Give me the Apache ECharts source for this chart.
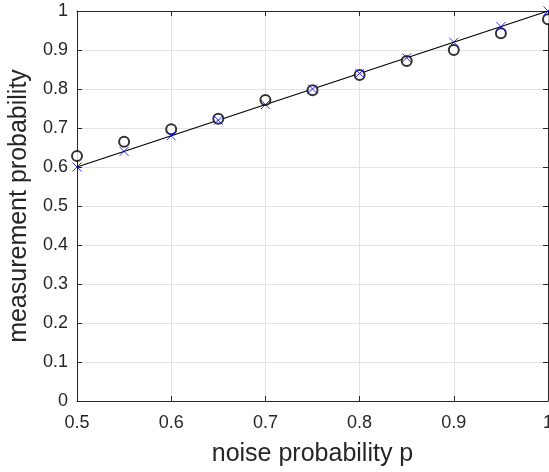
<!DOCTYPE html>
<html>
<head>
<meta charset="utf-8">
<script src="https://cdn.jsdelivr.net/npm/echarts@6/dist/echarts.min.js"></script>
<style>
  html, body { margin: 0; padding: 0; background: #fff; }
  #chart { width: 549px; height: 472px; }
</style>
</head>
<body>
<div id="chart"></div>
<script>
// noise probability p
const pValues = [0.5, 0.55, 0.6, 0.65, 0.7, 0.75, 0.8, 0.85, 0.9, 0.95, 1.0];
// measured (circles)
const measured = [0.628, 0.665, 0.697, 0.724, 0.772, 0.797, 0.836, 0.872, 0.900, 0.943, 0.979];
// expected (blue crosses)
const expected = [0.60, 0.64, 0.68, 0.72, 0.76, 0.80, 0.84, 0.88, 0.92, 0.96, 1.00];
// reference line end points
const lineX = [0.5, 1.0];
const lineY = [0.6, 1.0];

const chart = echarts.init(document.getElementById('chart'));
const axisColor = '#262626';
const font = 'Liberation Sans, Arial, Helvetica, sans-serif';

const crossPath = 'path://M0,0L10,10M10,0L0,10';

chart.setOption({
  animation: false,
  grid: { left: 77, right: 1, top: 11, bottom: 71, containLabel: false, outerBoundsMode: 'none' },
  xAxis: [{
    type: 'value', min: 0.5, max: 1, interval: 0.1,
    name: 'noise probability p', nameLocation: 'middle', nameGap: 41,
    nameTextStyle: { fontSize: 25, color: axisColor, fontFamily: font },
    axisLine: { lineStyle: { color: axisColor, width: 1 } },
    axisTick: { inside: true, length: 5, lineStyle: { color: axisColor } },
    axisLabel: { fontSize: 18, color: axisColor, fontFamily: font, margin: 13,
      formatter: v => (v === 1 ? '1' : v.toFixed(1)) },
    splitLine: { show: true, lineStyle: { color: '#e3e3e3' } }
  }, {
    type: 'value', position: 'top', min: 0.5, max: 1, interval: 0.1,
    axisLine: { show: true, onZero: false, lineStyle: { color: axisColor, width: 1 } },
    axisTick: { show: true, inside: true, length: 5, lineStyle: { color: axisColor } },
    axisLabel: { show: false }, splitLine: { show: false }
  }],
  yAxis: [{
    type: 'value', min: 0, max: 1, interval: 0.1,
    name: 'measurement probability', nameLocation: 'middle', nameGap: 41,
    nameTextStyle: { fontSize: 25, color: axisColor, fontFamily: font },
    axisLine: { show: true, lineStyle: { color: axisColor, width: 1 } },
    axisTick: { show: true, inside: true, length: 5, lineStyle: { color: axisColor } },
    axisLabel: { fontSize: 18, color: axisColor, fontFamily: font, margin: 9,
      formatter: v => (v === 0 ? '0' : v === 1 ? '1' : v.toFixed(1)) },
    splitLine: { show: true, lineStyle: { color: '#e3e3e3' } }
  }, {
    type: 'value', position: 'right', min: 0, max: 1, interval: 0.1,
    axisLine: { show: true, onZero: false, lineStyle: { color: axisColor, width: 1 } },
    axisTick: { show: true, inside: true, length: 5, lineStyle: { color: axisColor } },
    axisLabel: { show: false }, splitLine: { show: false }
  }],
  series: [{
    type: 'line',
    data: lineX.map((x, i) => [x, lineY[i]]),
    showSymbol: false,
    lineStyle: { color: '#000', width: 1.2 },
    z: 3
  }, {
    type: 'scatter',
    data: pValues.map((p, i) => [p, measured[i]]),
    symbol: 'emptyCircle', symbolSize: 10,
    itemStyle: { color: '#000', borderColor: '#000', borderWidth: 0.8 },
    clip: false, z: 4
  }, {
    type: 'scatter',
    data: pValues.map((p, i) => [p, expected[i]]),
    symbol: crossPath, symbolSize: 9,
    itemStyle: { color: 'none', borderColor: '#0000ff', borderWidth: 1 },
    clip: false, z: 5
  }]
});
</script>
</body>
</html>
